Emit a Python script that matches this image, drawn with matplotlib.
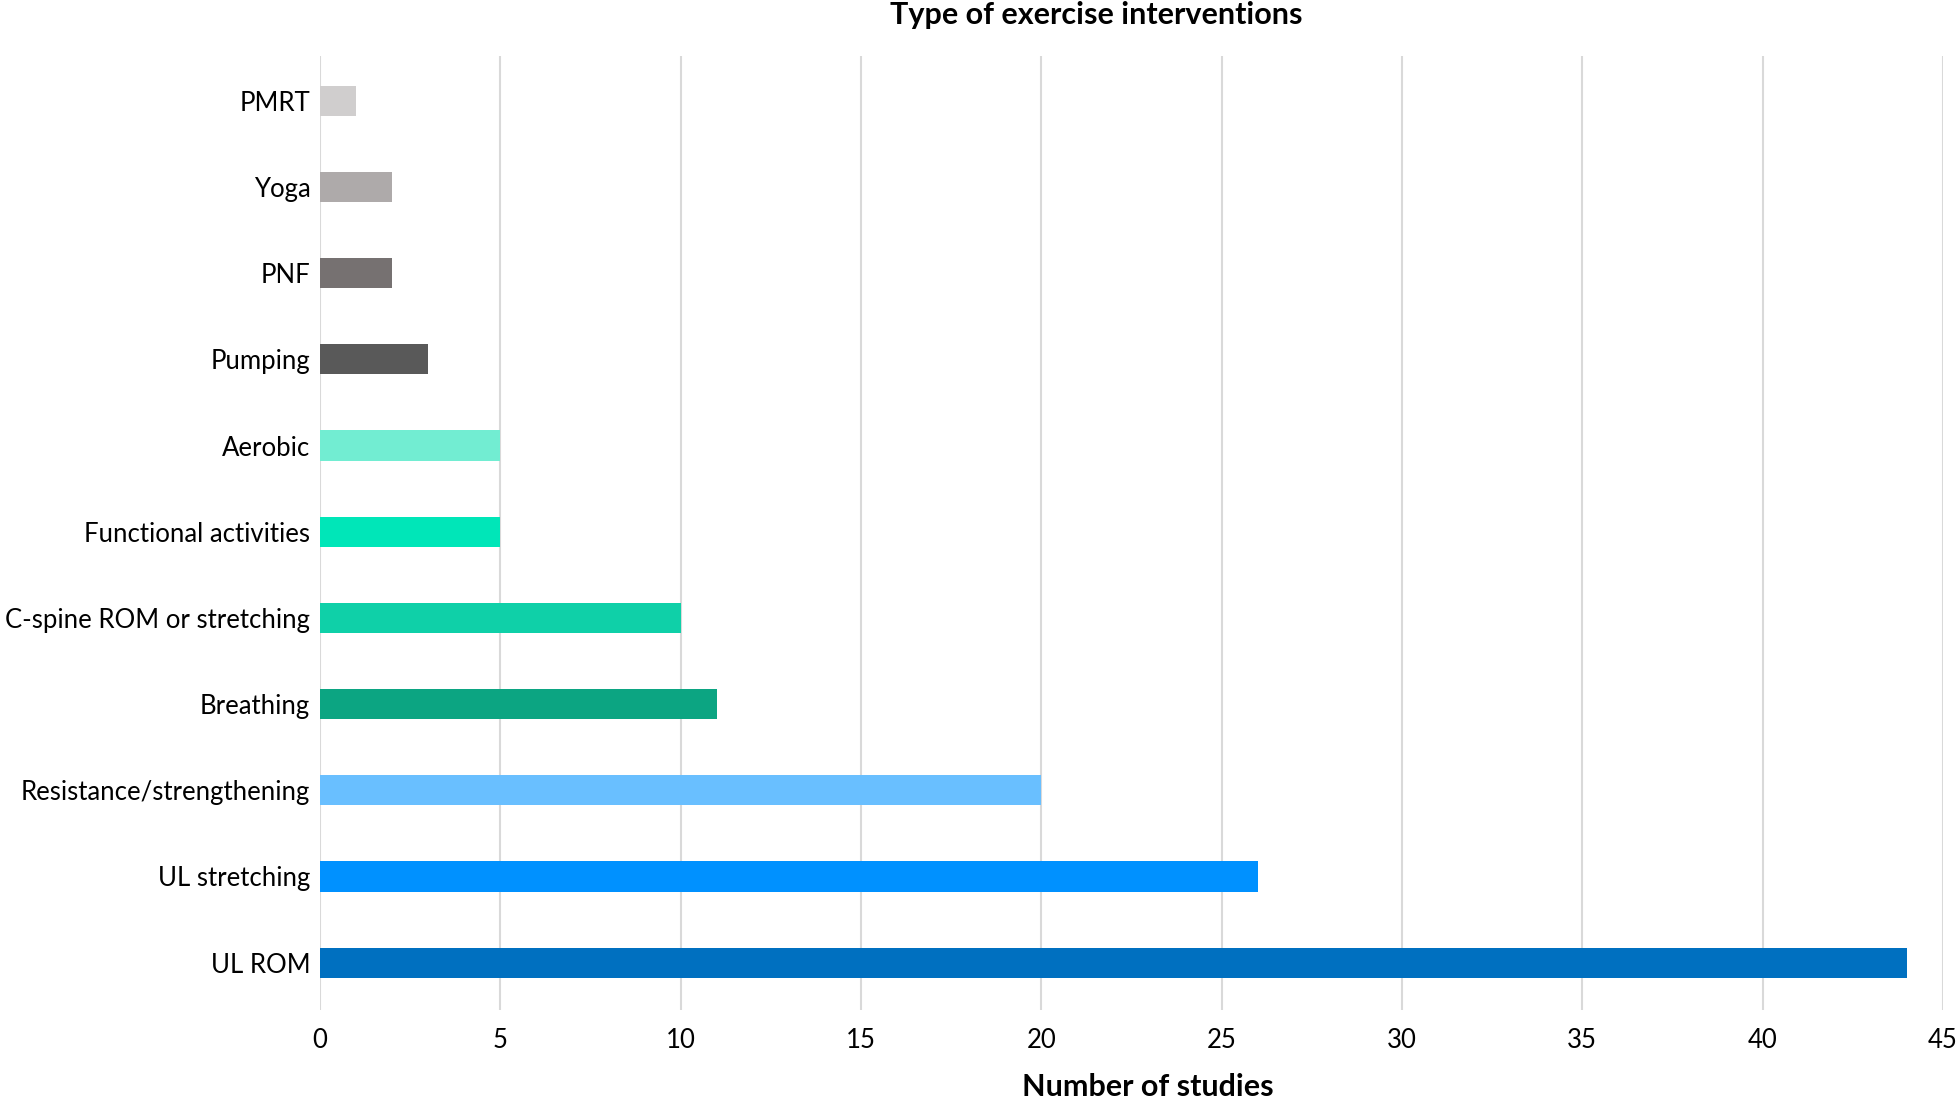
import matplotlib.pyplot as plt

plt.rcParams['font.family'] = ['Lato', 'DejaVu Sans']

categories = ['UL ROM', 'UL stretching', 'Resistance/strengthening', 'Breathing',
              'C-spine ROM or stretching', 'Functional activities', 'Aerobic',
              'Pumping', 'PNF', 'Yoga', 'PMRT']
studies = [44, 26, 20, 11, 10, 5, 5, 3, 2, 2, 1]
colors = ['#0070C0', '#0091FF', '#69BFFF', '#0CA582', '#0FD0A8', '#00E6B8',
          '#72EDD2', '#595959', '#767171', '#AEAAAA', '#D0CECE']

W, H = 1959, 1104
fig = plt.figure(figsize=(W / 100, H / 100), dpi=100)
ax = fig.add_axes([320 / W, 1 - 1010 / H, (1943 - 320) / W, (1010 - 56) / H])

ax.barh(range(len(categories)), studies, height=0.35, color=colors, zorder=3)

ax.set_xlim(0, 45)
ax.set_ylim(-0.55, 10.52)
ax.set_xticks(range(0, 46, 5))
ax.set_yticks(range(len(categories)))
ax.set_yticklabels(categories)
ax.grid(axis='x', color='#D9D9D9', linewidth=1.5, zorder=0)
for s in ax.spines.values():
    s.set_visible(False)
ax.tick_params(axis='both', length=0, labelsize=18.5)
ax.tick_params(axis='y', pad=7)
ax.tick_params(axis='x', pad=13)

fig.text(1096 / W, 1 - 15 / H, 'Type of exercise interventions', ha='center', va='center',
         fontsize=22, fontweight='bold')
fig.text(1148 / W, 1 - 1087 / H, 'Number of studies', ha='center', va='center',
         fontsize=22, fontweight='bold')

plt.savefig('out.png', dpi=100)
